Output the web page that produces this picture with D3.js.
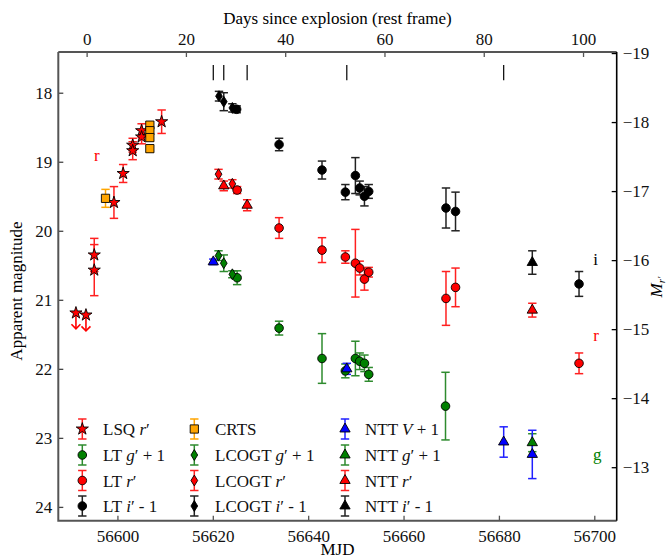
<!DOCTYPE html>
<html><head><meta charset="utf-8">
<script src="https://cdn.jsdelivr.net/npm/d3@7"></script>
<style>
body{margin:0;background:#fff;}
text{font-family:"Liberation Serif","DejaVu Serif",serif;}
</style>
</head><body>
<svg id="c" width="672" height="560"></svg>
<script>
// ---------------- data ----------------
const mjdDomain = [56587.6, 56704.7];
const magDomain = [17.41, 24.2];
const distMod = 36.425;
const explosionMJD = 56593.54;
const redshift = 0.041;

const magTicks = [18, 19, 20, 21, 22, 23, 24];
const mjdTicks = [56600, 56620, 56640, 56660, 56680, 56700];
const dayTicks = [0, 20, 40, 60, 80, 100];
const absTicks = [-19, -18, -17, -16, -15, -14, -13];

const spectraMJD = [56620.1, 56622.3, 56627.2, 56648.1, 56681.0];

// LSQ r'
const lsqMjd = [56595.14, 56595.14, 56599.27, 56601.2, 56603.2, 56603.2, 56605.07, 56605.07, 56609.27];
const lsqMag = [20.35, 20.57, 19.59, 19.17, 18.76, 18.84, 18.55, 18.64, 18.42];
const lsqErr = [0.24, 0.37, 0.23, 0.13, 0.10, 0.13, 0.10, 0.10, 0.17];
const lsqLimMjd = [56591.3, 56593.4];
const lsqLimMag = [21.19, 21.22];
// CRTS
const crtsMjd = [56597.5, 56606.8, 56606.8, 56606.8, 56606.8];
const crtsMag = [19.53, 18.47, 18.55, 18.65, 18.81];
const crtsErr = [0.13, 0.05, 0.05, 0.05, 0.05];
// LT g'+1
const ltgMjd = [56625.1, 56633.9, 56642.9, 56647.8, 56649.9, 56650.8, 56651.8, 56652.7, 56668.8];
const ltgMag = [20.68, 21.41, 21.85, 22.03, 21.85, 21.89, 21.92, 22.08, 22.54];
const ltgErr = [0.10, 0.10, 0.36, 0.10, 0.25, 0.12, 0.12, 0.10, 0.49];
// LT r'
const ltrMjd = [56625.1, 56633.9, 56642.9, 56647.8, 56649.9, 56650.8, 56651.8, 56652.7, 56668.9, 56670.9, 56696.8];
const ltrMag = [19.41, 19.96, 20.28, 20.38, 20.47, 20.54, 20.70, 20.60, 20.98, 20.82, 21.92];
const ltrErr = [0.05, 0.15, 0.18, 0.09, 0.49, 0.10, 0.16, 0.07, 0.39, 0.28, 0.15];
// LT i'-1
const ltiMjd = [56625.0, 56633.9, 56642.9, 56647.8, 56649.9, 56650.8, 56651.8, 56652.7, 56668.9, 56670.9, 56696.8];
const ltiMag = [18.24, 18.75, 19.12, 19.44, 19.20, 19.38, 19.50, 19.43, 19.67, 19.72, 20.77];
const ltiErr = [0.05, 0.09, 0.13, 0.11, 0.26, 0.10, 0.14, 0.10, 0.29, 0.28, 0.18];
// LCOGT
const lcgMjd = [56621.2, 56622.3, 56624.1];
const lcgMag = [20.36, 20.47, 20.63];
const lcgErr = [0.07, 0.12, 0.05];
const lcrMjd = [56621.2, 56624.1];
const lcrMag = [19.18, 19.32];
const lcrErr = [0.07, 0.06];
const lciMjd = [56621.3, 56622.3, 56624.1];
const lciMag = [18.05, 18.13, 18.22];
const lciErr = [0.07, 0.13, 0.06];
// NTT
const ntvMjd = [56620.1, 56648.1, 56681.0, 56687.0];
const ntvMag = [20.45, 22.00, 23.06, 23.24];
const ntvErr = [0.04, 0.08, 0.22, 0.35];
const ntgMjd = [56687.0];
const ntgMag = [23.07];
const ntgErr = [0.13];
const ntrMjd = [56622.3, 56627.2, 56687.0];
const ntrMag = [19.35, 19.63, 21.15];
const ntrErr = [0.07, 0.08, 0.10];
const ntiMjd = [56687.0];
const ntiMag = [20.46];
const ntiErr = [0.17];

const bandLabels = [
  {t: "r", mjd: 56595.7, mag: 18.93, c: "#ff0000"},
  {t: "i", mjd: 56700.3, mag: 20.44, c: "#000000"},
  {t: "r", mjd: 56700.4, mag: 21.54, c: "#ff0000"},
  {t: "g", mjd: 56700.6, mag: 23.26, c: "#008000"}
];

// ---------------- chart ----------------
const svg = d3.select("#c");
const L = 58.3, R = 616.7, T = 52, B = 520.7;
const x = d3.scaleLinear().domain(mjdDomain).range([L, R]);
const y = d3.scaleLinear().domain(magDomain).range([T, B]);
const xTop = d3.scaleLinear()
  .domain(mjdDomain.map(m => (m - explosionMJD) / (1 + redshift))).range([L, R]);
const yRight = d3.scaleLinear()
  .domain(magDomain.map(m => m - distMod)).range([T, B]);

const COL = {red: "#ff0000", green: "#008000", black: "#000000", blue: "#0000ff", orange: "#ffa500"};
const ECOL = {red: "#ff2020", green: "#2e8b2e", black: "#222222", blue: "#2020ff", orange: "#ffa500"};

const diamond = {draw(ctx, size) {
  const w = Math.sqrt(size) * 0.42, h = Math.sqrt(size) * 0.68;
  ctx.moveTo(0, -h); ctx.lineTo(w, 0); ctx.lineTo(0, h); ctx.lineTo(-w, 0); ctx.closePath();
}};
const SYM = {
  star: d3.symbol().type(d3.symbolStar).size(46),
  circle: d3.symbol().type(d3.symbolCircle).size(58),
  square: d3.symbol().type(d3.symbolSquare).size(68),
  diamond: d3.symbol().type(diamond).size(64),
  triangle: d3.symbol().type(d3.symbolTriangle).size(46)
};

function errbar(g, cx, y1, y2, color) {
  g.append("line").attr("x1", cx).attr("x2", cx).attr("y1", y1).attr("y2", y2)
    .attr("stroke", color).attr("stroke-width", 1.5);
  [y1, y2].forEach(v => g.append("line").attr("x1", cx - 4.2).attr("x2", cx + 4.2)
    .attr("y1", v).attr("y2", v).attr("stroke", color).attr("stroke-width", 1.5));
}
function marker(g, cx, cy, sym, color) {
  g.append("path").attr("d", SYM[sym]()).attr("transform", `translate(${cx},${cy})`)
    .attr("fill", COL[color]).attr("stroke", "#000").attr("stroke-width", 0.9);
}

const series = [
  {m: lsqMjd, v: lsqMag, e: lsqErr, sym: "star", c: "red"},
  {m: crtsMjd, v: crtsMag, e: crtsErr, sym: "square", c: "orange"},
  {m: ltiMjd, v: ltiMag, e: ltiErr, sym: "circle", c: "black"},
  {m: lciMjd, v: lciMag, e: lciErr, sym: "diamond", c: "black"},
  {m: ntiMjd, v: ntiMag, e: ntiErr, sym: "triangle", c: "black"},
  {m: ltrMjd, v: ltrMag, e: ltrErr, sym: "circle", c: "red"},
  {m: lcrMjd, v: lcrMag, e: lcrErr, sym: "diamond", c: "red"},
  {m: ntrMjd, v: ntrMag, e: ntrErr, sym: "triangle", c: "red"},
  {m: ltgMjd, v: ltgMag, e: ltgErr, sym: "circle", c: "green"},
  {m: lcgMjd, v: lcgMag, e: lcgErr, sym: "diamond", c: "green"},
  {m: ntgMjd, v: ntgMag, e: ntgErr, sym: "triangle", c: "green"},
  {m: ntvMjd, v: ntvMag, e: ntvErr, sym: "triangle", c: "blue"}
];

const gData = svg.append("g");
// error bars first
series.forEach(s => s.m.forEach((m, i) => {
  errbar(gData, x(m), y(s.v[i] - s.e[i]), y(s.v[i] + s.e[i]), ECOL[s.c]);
}));
// upper limits
lsqLimMjd.forEach((m, i) => {
  const cx = x(m), y0 = y(lsqLimMag[i]), y1 = y(lsqLimMag[i] + 0.23);
  gData.append("line").attr("x1", cx).attr("x2", cx).attr("y1", y0).attr("y2", y1)
    .attr("stroke", COL.red).attr("stroke-width", 1.6);
  gData.append("path").attr("d", `M${cx - 4.5},${y1 - 4.5}L${cx},${y1}L${cx + 4.5},${y1 - 4.5}`)
    .attr("fill", "none").attr("stroke", COL.red).attr("stroke-width", 1.6);
});
series.forEach(s => s.m.forEach((m, i) => marker(gData, x(m), y(s.v[i]), s.sym, s.c)));
lsqLimMjd.forEach((m, i) => marker(gData, x(m), y(lsqLimMag[i]), "star", "red"));

// spectra epochs
spectraMJD.forEach(m => svg.append("line").attr("x1", x(m)).attr("x2", x(m))
  .attr("y1", y(17.6)).attr("y2", y(17.82)).attr("stroke", "#000").attr("stroke-width", 1.2));

// band labels
bandLabels.forEach(b => svg.append("text").attr("x", x(b.mjd)).attr("y", y(b.mag))
  .attr("text-anchor", "middle").attr("dominant-baseline", "middle")
  .attr("font-size", 17).attr("fill", b.c).text(b.t));

// axes
const FS = 17;
function styleAxis(g, color) {
  g.select(".domain").remove();
  g.selectAll(".tick line").attr("stroke", color).attr("stroke-width", 1.3);
  g.selectAll(".tick text").attr("font-family", "Liberation Serif").attr("font-size", FS).attr("fill", "#111");
}
const gB = svg.append("g").attr("transform", `translate(0,${B})`)
  .call(d3.axisBottom(x).tickValues(mjdTicks).tickFormat(d3.format("d")).tickSizeInner(-5).tickSizeOuter(0).tickPadding(9));
styleAxis(gB, "#555");
const gT = svg.append("g").attr("transform", `translate(0,${T})`)
  .call(d3.axisTop(xTop).tickValues(dayTicks).tickFormat(d3.format("d")).tickSizeInner(-5).tickSizeOuter(0).tickPadding(7));
styleAxis(gT, "#555");
const gL = svg.append("g").attr("transform", `translate(${L},0)`)
  .call(d3.axisLeft(y).tickValues(magTicks).tickFormat(d3.format("d")).tickSizeInner(-5).tickSizeOuter(0).tickPadding(6));
styleAxis(gL, "#444");
const gR = svg.append("g").attr("transform", `translate(${R},0)`)
  .call(d3.axisRight(yRight).tickValues(absTicks).tickFormat(d => "\u2212" + Math.abs(d)).tickSizeInner(-5).tickSizeOuter(0).tickPadding(6));
styleAxis(gR, "#000");

// frame
svg.append("path").attr("d", `M${L},${T}V${B}H${R}`).attr("fill", "none").attr("stroke", "#555").attr("stroke-width", 2);
svg.append("line").attr("x1", L).attr("x2", R).attr("y1", T).attr("y2", T).attr("stroke", "#555").attr("stroke-width", 2);
svg.append("line").attr("x1", R).attr("x2", R).attr("y1", T).attr("y2", B).attr("stroke", "#000").attr("stroke-width", 1.6);

// axis titles
svg.append("text").attr("x", (L + R) / 2).attr("y", 24).attr("text-anchor", "middle").attr("font-size", FS)
  .text("Days since explosion (rest frame)");
svg.append("text").attr("x", (L + R) / 2).attr("y", 555).attr("text-anchor", "middle").attr("font-size", FS)
  .text("MJD");
svg.append("text").attr("transform", "translate(22,291) rotate(-90)").attr("text-anchor", "middle").attr("font-size", FS)
  .text("Apparent magnitude");
const rl = svg.append("text").attr("transform", "translate(662,287) rotate(-90)").attr("text-anchor", "middle").attr("font-size", FS);
rl.append("tspan").attr("font-style", "italic").text("M");
rl.append("tspan").attr("font-style", "italic").attr("font-size", 11).attr("dy", 3).text("r\u2032");

// legend
const legendItems = [
  {col: 0, row: 0, sym: "star", c: "red", parts: [["LSQ ", 0], ["r", 1], ["\u2032", 0]]},
  {col: 0, row: 1, sym: "circle", c: "green", parts: [["LT ", 0], ["g", 1], ["\u2032 + 1", 0]]},
  {col: 0, row: 2, sym: "circle", c: "red", parts: [["LT ", 0], ["r", 1], ["\u2032", 0]]},
  {col: 0, row: 3, sym: "circle", c: "black", parts: [["LT ", 0], ["i", 1], ["\u2032 - 1", 0]]},
  {col: 1, row: 0, sym: "square", c: "orange", parts: [["CRTS", 0]]},
  {col: 1, row: 1, sym: "diamond", c: "green", parts: [["LCOGT ", 0], ["g", 1], ["\u2032 + 1", 0]]},
  {col: 1, row: 2, sym: "diamond", c: "red", parts: [["LCOGT ", 0], ["r", 1], ["\u2032", 0]]},
  {col: 1, row: 3, sym: "diamond", c: "black", parts: [["LCOGT ", 0], ["i", 1], ["\u2032 - 1", 0]]},
  {col: 2, row: 0, sym: "triangle", c: "blue", parts: [["NTT ", 0], ["V", 1], [" + 1", 0]]},
  {col: 2, row: 1, sym: "triangle", c: "green", parts: [["NTT ", 0], ["g", 1], ["\u2032 + 1", 0]]},
  {col: 2, row: 2, sym: "triangle", c: "red", parts: [["NTT ", 0], ["r", 1], ["\u2032", 0]]},
  {col: 2, row: 3, sym: "triangle", c: "black", parts: [["NTT ", 0], ["i", 1], ["\u2032 - 1", 0]]}
];
const legMarkX = [82.3, 194.3, 345], legTextX = [103, 215, 365], legRowY = [429, 455, 480.5, 506];
const gLeg = svg.append("g");
legendItems.forEach(it => {
  const mx = legMarkX[it.col], my = legRowY[it.row];
  errbar(gLeg, mx, my - 10, my + 10, ECOL[it.c]);
  marker(gLeg, mx, my, it.sym, it.c);
  const t = gLeg.append("text").attr("x", legTextX[it.col]).attr("y", my + 6).attr("font-size", FS).attr("fill", "#111");
  it.parts.forEach(p => t.append("tspan").attr("font-style", p[1] ? "italic" : "normal").text(p[0]));
});
</script>
</body></html>
